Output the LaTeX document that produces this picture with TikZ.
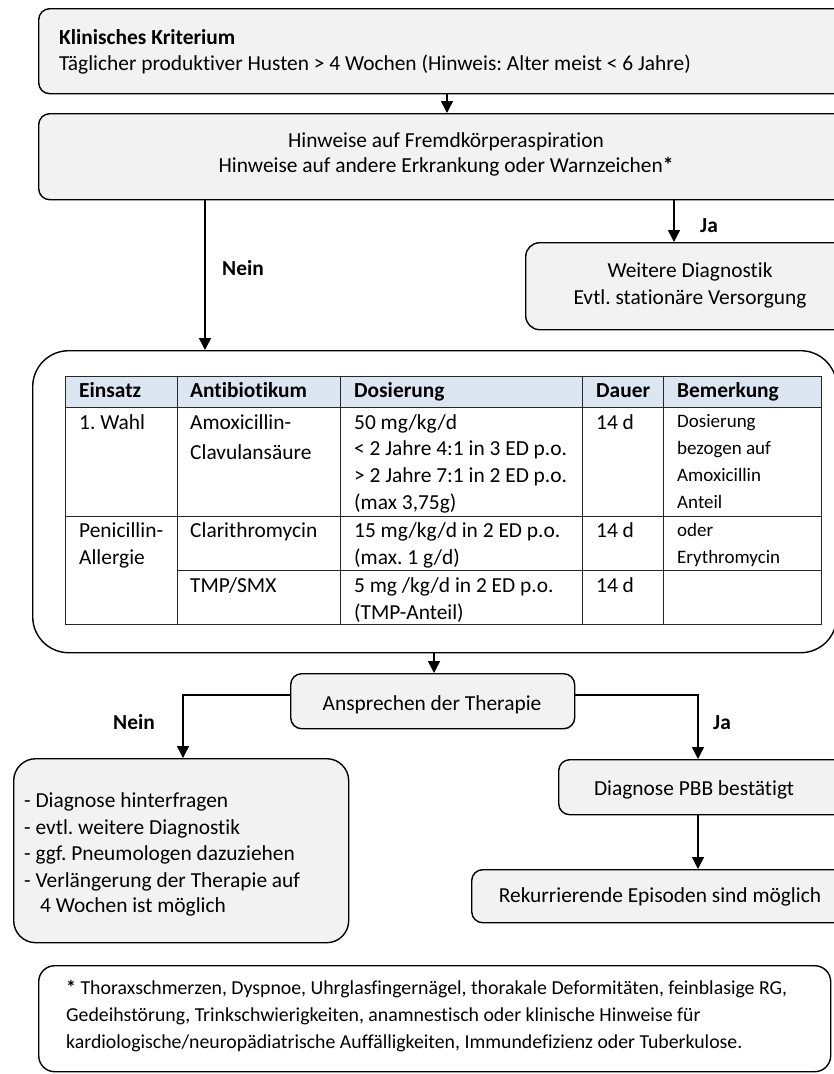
\documentclass[tikz,border=0pt]{standalone}
\usepackage{fontspec}
\setmainfont{Carlito}[Ligatures={NoCommon}]
\usetikzlibrary{arrows.meta}
\definecolor{boxfill}{HTML}{F2F2F2}
\definecolor{headfill}{HTML}{DCE6F2}
\definecolor{rule}{HTML}{262626}
\frenchspacing

\tikzset{
  box/.style={draw=black, line width=1.4pt, fill=boxfill, rounded corners=11pt,
    anchor=north west, inner sep=0pt},
  whitebox/.style={box, fill=white},
  arr/.style={line width=1.5pt, -{Triangle[length=12pt,width=12pt]}},
  tl/.style={line width=1pt, draw=rule},
  t/.style={anchor=base west, inner sep=0pt, font=\fontsize{21.4}{26}\selectfont},
  tc/.style={anchor=base, inner sep=0pt, font=\fontsize{21.4}{26}\selectfont},
  tb/.style={t, font=\fontsize{21.4}{26}\selectfont\bfseries},
  lab/.style={tc, font=\fontsize{21.4}{26}\selectfont\bfseries},
  ts/.style={t, font=\fontsize{19}{24}\selectfont},
  tf/.style={t, font=\fontsize{19.8}{26}\selectfont},
}

\begin{document}
\begin{tikzpicture}[x=1pt,y=-1pt]
\path[use as bounding box] (0,0) rectangle (834,1074);
\clip (0,0) rectangle (834,1074);
\fill[white] (0,0) rectangle (834,1074);

% ---------- boxes ----------
\node[box, minimum width=822, minimum height=85] (b1) at (38,8) {};
\node[box, minimum width=822, minimum height=86] (b2) at (38,113) {};
\node[box, rounded corners=14pt, minimum width=335, minimum height=87] (b3) at (525,242) {};
\node[whitebox, rounded corners=36pt, minimum width=804, minimum height=302] (big) at (32,350) {};
\node[box, minimum width=284, minimum height=55] (ansp) at (290,673) {};
\node[box, rounded corners=22pt, minimum width=335, minimum height=184] (lb) at (13,758) {};
\node[box, minimum width=302, minimum height=55] (diag) at (558,759) {};
\node[box, minimum width=389, minimum height=53] (rek) at (471,869) {};
\node[whitebox, rounded corners=16pt, minimum width=792, minimum height=106] (foot) at (38,965) {};

% ---------- box texts ----------
\node[tb] (k1) at (59,44) {Klinisches Kriterium};
\node[t]  (k2) at (59,70) {Täglicher produktiver Husten > 4 Wochen (Hinweis: Alter meist < 6 Jahre)};
\node[tc] (h1) at (446,147) {Hinweise auf Fremdkörperaspiration};
\node[tc] (h2) at (446,172) {Hinweise auf andere Erkrankung oder Warnzeichen\textbf{*}};
\node[tc] (w1) at (690,277) {Weitere Diagnostik};
\node[tc] (w2) at (690,304) {Evtl. stationäre Versorgung};
\node[tc] (a1) at (432,710) {Ansprechen der Therapie};
\node[t] (l1) at (24,807) {- Diagnose hinterfragen};
\node[t] (l2) at (24,834) {- evtl. weitere Diagnostik};
\node[t] (l3) at (24,860) {- ggf. Pneumologen dazuziehen};
\node[t] (l4) at (24,887) {- Verlängerung der Therapie auf};
\node[t] (l5) at (40,912) {4 Wochen ist möglich};
\node[tc] (d1) at (694,795) {Diagnose PBB bestätigt};
\node[tc] (r1) at (660,902) {Rekurrierende Episoden sind möglich};
\node[tf] (f1) at (66,994) {\textbf{*} Thoraxschmerzen, Dyspnoe, Uhrglasfingernägel, thorakale Deformitäten, feinblasige RG,};
\node[tf] (f2) at (66,1021) {Gedeihstörung, Trinkschwierigkeiten, anamnestisch oder klinische Hinweise für};
\node[tf] (f3) at (66,1048) {kardiologische/neuropädiatrische Auffälligkeiten, Immundefizienz oder Tuberkulose.};

% ---------- table ----------
\fill[headfill] (65,376) rectangle (821,407);
\draw[tl] (65,376) rectangle (821,624);
\draw[tl] (65,407) -- (821,407);
\draw[tl] (65,516) -- (821,516);
\draw[tl] (177,570) -- (821,570);
\foreach \cx in {177,340,582,663} \draw[tl] (\cx,376) -- (\cx,624);

\node[tb] (th1) at (79,397) {Einsatz};
\node[tb] (th2) at (190,397) {Antibiotikum};
\node[tb] (th3) at (354,397) {Dosierung};
\node[tb] (th4) at (596,397) {Dauer};
\node[tb] (th5) at (677,397) {Bemerkung};

\node[t] (c11) at (79,429) {1. Wahl};
\node[t] (c12a) at (190,429) {Amoxicillin-};
\node[t] (c12b) at (190,459) {Clavulansäure};
\node[t] (c13a) at (354,429) {50 mg/kg/d};
\node[t] (c13b) at (354,455) {< 2 Jahre 4:1 in 3 ED p.o.};
\node[t] (c13c) at (354,482) {> 2 Jahre 7:1 in 2 ED p.o.};
\node[t] (c13d) at (354,509) {(max 3,75g)};
\node[t] (c14) at (596,429) {14 d};
\node[ts] (c15a) at (677,427) {Dosierung};
\node[ts] (c15b) at (677,454) {bezogen auf};
\node[ts] (c15c) at (677,481) {Amoxicillin};
\node[ts] (c15d) at (677,508) {Anteil};

\node[t] (c21a) at (79,537) {Penicillin-};
\node[t] (c21b) at (79,564) {Allergie};
\node[t] (c22) at (190,537) {Clarithromycin};
\node[t] (c23a) at (354,537) {15 mg/kg/d in 2 ED p.o.};
\node[t] (c23b) at (354,564) {(max. 1 g/d)};
\node[t] (c24) at (596,537) {14 d};
\node[ts] (c25a) at (677,536) {oder};
\node[ts] (c25b) at (677,563) {Erythromycin};

\node[t] (c32) at (190,592) {TMP/SMX};
\node[t] (c33a) at (354,592) {5 mg /kg/d in 2 ED p.o.};
\node[t] (c33b) at (354,619) {(TMP-Anteil)};
\node[t] (c34) at (596,592) {14 d};

% ---------- connector positions ----------
\coordinate (xA) at (447,0);
\coordinate (xN) at (205,0);
\coordinate (xJ) at (674,0);
\coordinate (xT) at (434,0);
\coordinate (xL) at (183,0);
\coordinate (xR) at (698,0);
\coordinate (yT) at (0,695);

% ---------- connectors ----------
\draw[arr] (b1.south -| xA) -- (b2.north -| xA);
\draw[arr] (b2.south -| xN) -- (big.north -| xN);
\draw[arr] (b2.south -| xJ) -- (b3.north -| xJ);
\draw[arr] (big.south -| xT) -- (ansp.north -| xT);
\draw[arr] (ansp.west |- yT) -- (xL |- yT) -- (lb.north -| xL);
\draw[arr] (ansp.east |- yT) -- (xR |- yT) -- (diag.north -| xR);
\draw[arr] (diag.south -| xR) -- (rek.north -| xR);

% ---------- branch labels ----------
\node[lab] (nein1) at (243,275) {Nein};
\node[lab] (ja1) at (709,232) {Ja};
\node[lab] (nein2) at (134,729) {Nein};
\node[lab] (ja2) at (722,729) {Ja};
\end{tikzpicture}
\end{document}
